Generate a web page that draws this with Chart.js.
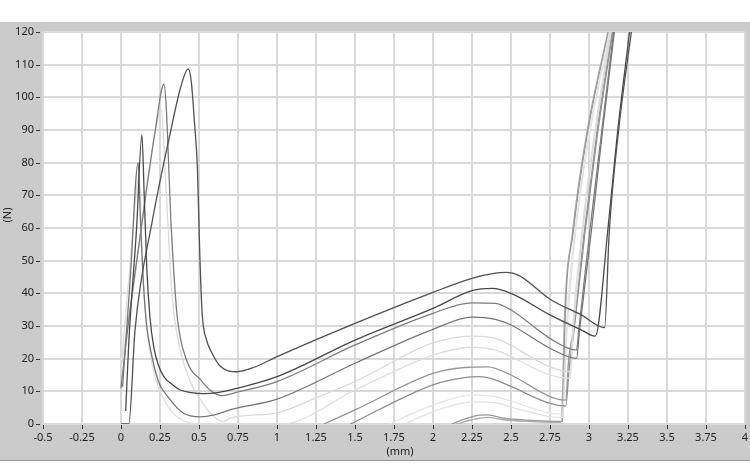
<!DOCTYPE html>
<html>
<head>
<meta charset="utf-8">
<title>Force / displacement</title>
<script src="https://cdn.jsdelivr.net/npm/chart.js@4.4.1/dist/chart.umd.min.js"></script>
<style>
  html, body { margin: 0; padding: 0; background: #fff; }
  #wrap { width: 750px; height: 470px; }
</style>
</head>
<body>
<div id="wrap"><canvas id="chart" width="750" height="470"></canvas></div>
<script>
// axis ticks and titles
const xTicks = [-0.5, -0.25, 0, 0.25, 0.5, 0.75, 1, 1.25, 1.5, 1.75, 2, 2.25, 2.5, 2.75, 3, 3.25, 3.5, 3.75, 4];
const yTicks = [0, 10, 20, 30, 40, 50, 60, 70, 80, 90, 100, 110, 120];
const xTitle = '(mm)';
const yTitle = '(N)';

// curves (displacement mm, force N)
const c1x = [0, 0.05, 0.09, 0.2, 0.32, 0.382, 0.431, 0.45, 0.47, 0.49, 0.505, 0.52, 0.55, 0.574, 0.64, 0.745, 0.85, 1.0, 1.5, 2.0, 2.25, 2.4, 2.47, 2.55, 2.75, 2.95, 3.1, 3.13, 3.19, 3.28];
const c1y = [0, 0, 28.8, 62, 90, 103, 108.7, 105, 93, 78, 52, 34, 25.5, 22.6, 17.5, 16, 17.3, 20.6, 30.8, 40.3, 44.6, 46.2, 46.4, 45.5, 38.2, 33.4, 29.5, 59, 90, 123];

const c2x = [0.03, 0.05, 0.1, 0.134, 0.149, 0.165, 0.185, 0.21, 0.24, 0.275, 0.33, 0.38, 0.45, 0.53, 0.62, 0.75, 1.0, 1.5, 2.0, 2.25, 2.38, 2.5, 2.75, 2.95, 3.04, 3.12, 3.18, 3.265];
const c2y = [4, 25, 60, 88.5, 69.8, 48, 33, 23.5, 18, 14.5, 12, 10.4, 9.6, 9.3, 9.6, 11, 14.5, 25.7, 35.4, 40.8, 41.5, 40, 33.4, 28.8, 26.9, 59, 88, 122];

const c3x = [0, 0.042, 0.13, 0.22, 0.275, 0.29, 0.305, 0.32, 0.33, 0.36, 0.42, 0.51, 0.58, 0.64, 0.75, 1.0, 1.5, 2.0, 2.25, 2.4, 2.5, 2.75, 2.92, 2.935, 3.005, 3.08, 3.16];
const c3y = [11, 28.8, 60, 90, 104, 97, 80, 62, 53, 33, 19.6, 13.5, 10, 8.7, 9.8, 13, 24.2, 33.9, 37.1, 36.9, 34.9, 26.2, 22.6, 29, 59, 89, 121];

const c4x = [0.01, 0.06, 0.11, 0.125, 0.145, 0.165, 0.19, 0.24, 0.3, 0.4, 0.51, 0.6, 0.72, 1.0, 1.5, 2.0, 2.25, 2.4, 2.5, 2.75, 2.92, 2.94, 3.015, 3.085, 3.165];
const c4y = [11.4, 45, 80, 62, 42, 30, 22.6, 13, 8.4, 3.3, 2.2, 2.8, 4.6, 7.6, 18.6, 29, 32.7, 32, 30.3, 23.2, 20.1, 29, 59, 89, 121];

const c5x = [0, 0.08, 0.18, 0.26, 0.28, 0.3, 0.31, 0.33, 0.38, 0.45, 0.51, 0.58, 0.66, 0.7, 1.0, 1.25, 1.5, 2.0, 2.25, 2.4, 2.75, 2.88, 2.9, 2.96, 3.04, 3.145];
const c5y = [17, 42, 78, 96, 80, 62, 53, 38, 22.6, 12.4, 7.3, 3, 0.7, 1.8, 3.4, 8, 13, 24.8, 26.9, 26.2, 17.5, 16, 29, 59, 89, 121];

const c6x = [0, 0.06, 0.117, 0.135, 0.16, 0.2, 0.26, 0.33, 0.45, 0.55, 1.03, 1.5, 2.0, 2.25, 2.4, 2.75, 2.88, 2.895, 2.955, 3.035, 3.14];
const c6y = [17, 50, 76, 52, 32, 18, 9, 3.5, 0.3, 0, 0, 10.4, 21.1, 23.5, 22.6, 15, 14, 29, 59, 89, 121];

const c7x = [1.3, 1.5, 2.0, 2.2, 2.35, 2.5, 2.75, 2.85, 2.87, 2.9, 2.97, 3.05, 3.15];
const c7y = [0, 4.3, 15.5, 17.3, 17.5, 15, 8.4, 7.3, 20, 29, 59, 89, 121];

const c8x = [1.47, 1.5, 2.0, 2.2, 2.3, 2.4, 2.5, 2.75, 2.85, 2.875, 2.905, 2.975, 3.055, 3.155];
const c8y = [0, 0.7, 12, 14.2, 14.5, 13.5, 11.5, 6.3, 5.5, 18, 29, 59, 89, 121];

const c9x = [1.72, 1.92, 2.0, 2.25, 2.4, 2.5, 2.75, 2.83, 2.845, 2.855, 2.91, 3.0, 3.135];
const c9y = [0, 4.3, 5.8, 8.9, 8.4, 7, 3.3, 3, 15, 29, 59, 89, 121];

const c10x = [1.82, 1.92, 2.0, 2.25, 2.4, 2.5, 2.75, 2.83, 2.845, 2.86, 2.915, 3.005, 3.14];
const c10y = [0, 2.2, 3.8, 6.8, 6.5, 5.2, 2.2, 2, 15, 29, 59, 89, 121];

const c11x = [2.12, 2.2, 2.3, 2.35, 2.45, 2.6, 2.83, 2.838, 2.845, 2.9, 2.99, 3.13];
const c11y = [0, 1.5, 2.7, 2.8, 1.8, 1.2, 0.8, 12, 29, 59, 89, 121];

const c12x = [2.15, 2.25, 2.35, 2.45, 2.6, 2.82, 2.832, 2.84, 2.895, 2.985, 3.125];
const c12y = [0, 1.3, 2.0, 1.3, 0.8, 0.5, 12, 29, 59, 89, 121];

const curveX = [c1x, c2x, c3x, c4x, c5x, c6x, c7x, c8x, c9x, c10x, c11x, c12x];
const curveY = [c1y, c2y, c3y, c4y, c5y, c6y, c7y, c8y, c9y, c10y, c11y, c12y];
const lineColors = ['#505050', '#484848', '#7c7c7c', '#767676', '#dadada', '#dedede', '#969696', '#8e8e8e', '#e4e4e4', '#e2e2e2', '#989898', '#ababab'];

const tickFont = { family: 'Noto Sans', size: 11 };
const textColor = '#222';

const framePlugin = {
  id: 'frame',
  beforeDraw(chart) {
    const { ctx, chartArea: a, width, height } = chart;
    ctx.save();
    ctx.fillStyle = '#fff';
    ctx.fillRect(0, 0, width, height);
    ctx.fillStyle = '#cbcbcb';
    ctx.fillRect(0, 22, width, 438);
    ctx.fillStyle = '#9a9a9a';
    ctx.fillRect(0, 460, width, 1);
    ctx.fillStyle = '#fff';
    ctx.fillRect(a.left, a.top, a.right - a.left, a.bottom - a.top);
    ctx.restore();
  },
  afterDraw(chart) {
    const { ctx, chartArea: a } = chart;
    const xs = chart.scales.x, ys = chart.scales.y;
    ctx.save();
    ctx.strokeStyle = '#333';
    ctx.lineWidth = 1;
    ctx.beginPath();
    xTicks.forEach(v => {
      const px = Math.round(xs.getPixelForValue(v)) + 0.5;
      ctx.moveTo(px, a.bottom + 1);
      ctx.lineTo(px, a.bottom + 5);
    });
    yTicks.forEach(v => {
      const py = Math.round(ys.getPixelForValue(v)) + 0.5;
      ctx.moveTo(a.left - 7, py);
      ctx.lineTo(a.left - 3, py);
    });
    ctx.stroke();

    ctx.fillStyle = textColor;
    ctx.font = '11px "Noto Sans"';
    ctx.textAlign = 'center';
    ctx.textBaseline = 'middle';
    ctx.fillText(xTitle, 400, 452);
    ctx.translate(8, 215);
    ctx.rotate(-Math.PI / 2);
    ctx.fillText(yTitle, 0, 0);
    ctx.restore();
  }
};

const datasets = curveX.map((xs, i) => ({
  label: 'Test ' + (i + 1),
  data: xs.map((x, j) => ({ x: x, y: curveY[i][j] })),
  borderColor: lineColors[i],
  borderWidth: 1.3,
  showLine: true,
  pointRadius: 0,
  cubicInterpolationMode: 'monotone',
  fill: false
}));

new Chart(document.getElementById('chart'), {
  type: 'scatter',
  data: { datasets },
  options: {
    responsive: false,
    animation: false,
    layout: { padding: { left: 0, right: 5, top: 32, bottom: 10 } },
    plugins: { legend: { display: false }, tooltip: { enabled: false } },
    scales: {
      x: {
        type: 'linear',
        min: -0.5,
        max: 4,
        afterBuildTicks: s => { s.ticks = xTicks.map(v => ({ value: v })); },
        // keep the plot edge where the picture has it
        afterFit: s => { s.height = 36; s.paddingLeft = 0; s.paddingRight = 0; },
        border: { display: false },
        grid: { color: '#d9d9d9', lineWidth: 2, drawTicks: false },
        ticks: { padding: 7, color: textColor, font: tickFont, maxRotation: 0, autoSkip: false, callback: v => String(v) }
      },
      y: {
        type: 'linear',
        min: 0,
        max: 120,
        afterBuildTicks: s => { s.ticks = yTicks.map(v => ({ value: v })); },
        afterFit: s => { s.width = 43; },
        border: { display: false },
        grid: { color: '#d9d9d9', lineWidth: 2, drawTicks: false },
        ticks: { padding: 9, color: textColor, font: tickFont, autoSkip: false, callback: v => String(v) }
      }
    }
  },
  plugins: [framePlugin]
});
</script>
</body>
</html>
